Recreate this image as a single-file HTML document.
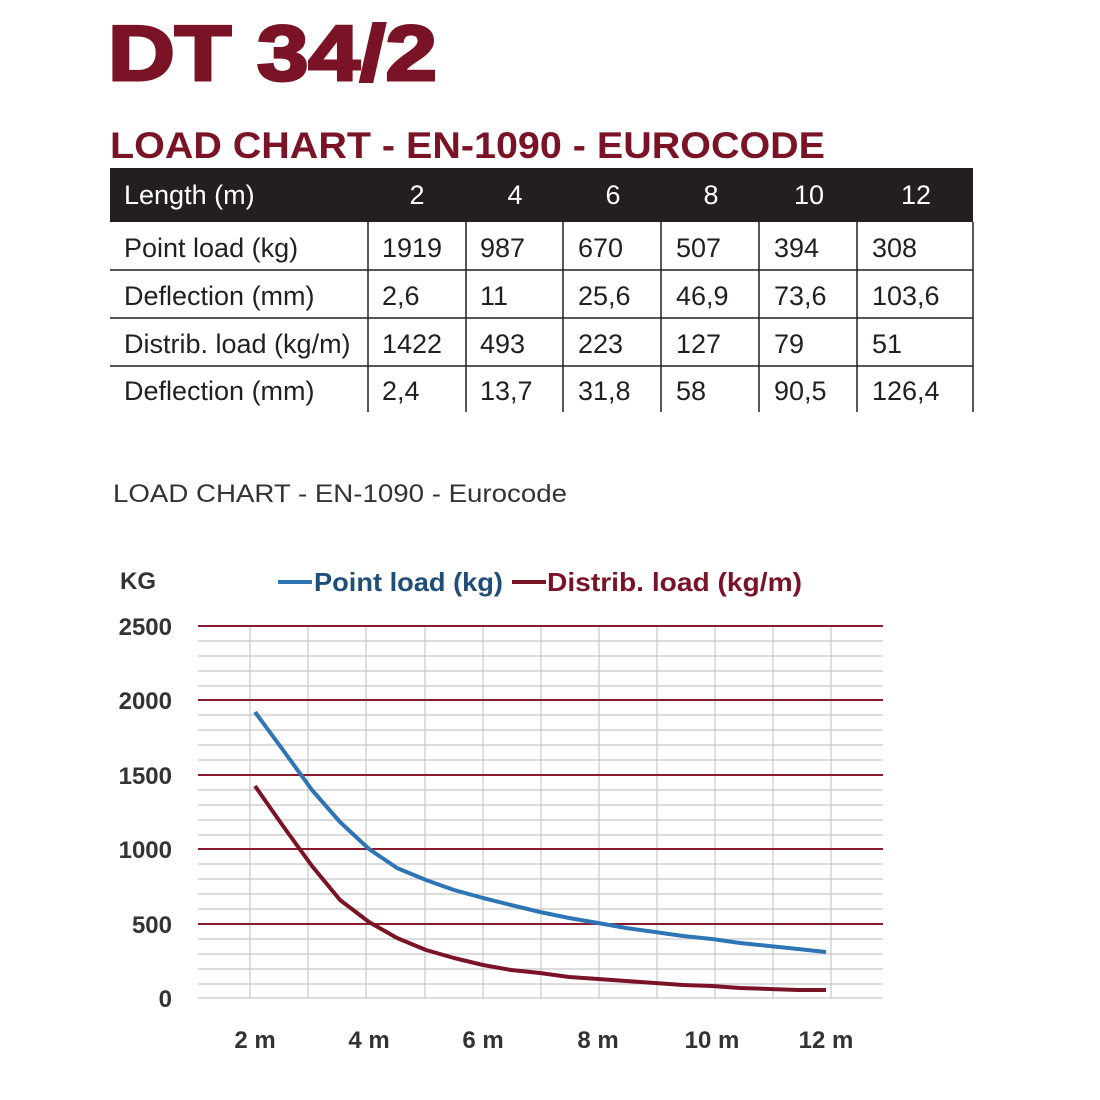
<!DOCTYPE html>
<html><head><meta charset="utf-8"><style>
body{margin:0;background:#fff;width:1100px;height:1100px;overflow:hidden;font-family:"Liberation Sans",sans-serif}
</style></head><body>
<svg width="1100" height="1100" xmlns="http://www.w3.org/2000/svg" style="position:absolute;left:0;top:0">
<text x="108" y="80" font-size="78" font-weight="bold" fill="#7b1327" font-family="Liberation Sans" textLength="329" lengthAdjust="spacingAndGlyphs" stroke="#7b1327" stroke-width="3">DT 34/2</text>
<text x="110" y="158" font-size="37" font-weight="bold" fill="#7b1327" font-family="Liberation Sans" textLength="715" lengthAdjust="spacingAndGlyphs">LOAD CHART - EN-1090 - EUROCODE</text>
<rect x="110" y="168" width="863" height="54" fill="#231f20"/>
<g font-size="27" fill="#fff">
<text x="124" y="204">Length (m)</text>
<text x="417" y="204" text-anchor="middle">2</text>
<text x="515" y="204" text-anchor="middle">4</text>
<text x="613" y="204" text-anchor="middle">6</text>
<text x="711" y="204" text-anchor="middle">8</text>
<text x="809" y="204" text-anchor="middle">10</text>
<text x="916" y="204" text-anchor="middle">12</text>
</g>
<g stroke="#231f20" stroke-width="1.5">
<line x1="110" y1="270" x2="973" y2="270"/><line x1="110" y1="318" x2="973" y2="318"/><line x1="110" y1="366" x2="973" y2="366"/>
<line x1="368" y1="222" x2="368" y2="412"/><line x1="466" y1="222" x2="466" y2="412"/><line x1="563" y1="222" x2="563" y2="412"/>
<line x1="661" y1="222" x2="661" y2="412"/><line x1="759" y1="222" x2="759" y2="412"/><line x1="857" y1="222" x2="857" y2="412"/><line x1="973" y1="222" x2="973" y2="412"/>
</g>
<g font-size="27" fill="#231f20">
<text x="124" y="257">Point load (kg)</text><text x="382" y="257">1919</text><text x="480" y="257">987</text><text x="578" y="257">670</text><text x="676" y="257">507</text><text x="774" y="257">394</text><text x="872" y="257">308</text>
<text x="124" y="305">Deflection (mm)</text><text x="382" y="305">2,6</text><text x="480" y="305">11</text><text x="578" y="305">25,6</text><text x="676" y="305">46,9</text><text x="774" y="305">73,6</text><text x="872" y="305">103,6</text>
<text x="124" y="353">Distrib. load (kg/m)</text><text x="382" y="353">1422</text><text x="480" y="353">493</text><text x="578" y="353">223</text><text x="676" y="353">127</text><text x="774" y="353">79</text><text x="872" y="353">51</text>
<text x="124" y="400">Deflection (mm)</text><text x="382" y="400">2,4</text><text x="480" y="400">13,7</text><text x="578" y="400">31,8</text><text x="676" y="400">58</text><text x="774" y="400">90,5</text><text x="872" y="400">126,4</text>
</g>
<text x="113" y="502" font-size="25" fill="#333" textLength="454" lengthAdjust="spacingAndGlyphs">LOAD CHART - EN-1090 - Eurocode</text>
<g stroke="#c8c8c8" stroke-width="1.2">
<line x1="198" y1="641" x2="883" y2="641"/><line x1="198" y1="656" x2="883" y2="656"/><line x1="198" y1="671" x2="883" y2="671"/><line x1="198" y1="686" x2="883" y2="686"/>
<line x1="198" y1="715" x2="883" y2="715"/><line x1="198" y1="730" x2="883" y2="730"/><line x1="198" y1="745" x2="883" y2="745"/><line x1="198" y1="760" x2="883" y2="760"/>
<line x1="198" y1="790" x2="883" y2="790"/><line x1="198" y1="805" x2="883" y2="805"/><line x1="198" y1="820" x2="883" y2="820"/><line x1="198" y1="835" x2="883" y2="835"/>
<line x1="198" y1="864" x2="883" y2="864"/><line x1="198" y1="879" x2="883" y2="879"/><line x1="198" y1="894" x2="883" y2="894"/><line x1="198" y1="909" x2="883" y2="909"/>
<line x1="198" y1="939" x2="883" y2="939"/><line x1="198" y1="954" x2="883" y2="954"/><line x1="198" y1="969" x2="883" y2="969"/><line x1="198" y1="984" x2="883" y2="984"/>
<line x1="198" y1="998" x2="883" y2="998"/>
<line x1="250" y1="626" x2="250" y2="998"/><line x1="308" y1="626" x2="308" y2="998"/><line x1="366" y1="626" x2="366" y2="998"/><line x1="425" y1="626" x2="425" y2="998"/><line x1="483" y1="626" x2="483" y2="998"/><line x1="541" y1="626" x2="541" y2="998"/><line x1="599" y1="626" x2="599" y2="998"/><line x1="657" y1="626" x2="657" y2="998"/><line x1="715" y1="626" x2="715" y2="998"/><line x1="773" y1="626" x2="773" y2="998"/><line x1="831" y1="626" x2="831" y2="998"/>
</g>
<g stroke="#8b1a2e" stroke-width="2">
<line x1="198" y1="626" x2="883" y2="626"/><line x1="198" y1="700" x2="883" y2="700"/><line x1="198" y1="775" x2="883" y2="775"/><line x1="198" y1="849" x2="883" y2="849"/><line x1="198" y1="924" x2="883" y2="924"/>
</g>
<g font-size="24" font-weight="bold" fill="#333" text-anchor="end">
<text x="172" y="635">2500</text><text x="172" y="709">2000</text><text x="172" y="784">1500</text><text x="172" y="858">1000</text><text x="172" y="933">500</text><text x="172" y="1007">0</text>
</g>
<text x="120" y="589" font-size="24" font-weight="bold" fill="#333">KG</text>
<g font-size="24" font-weight="bold" fill="#333" text-anchor="middle">
<text x="255" y="1048">2 m</text><text x="369" y="1048">4 m</text><text x="483" y="1048">6 m</text><text x="598" y="1048">8 m</text><text x="712" y="1048">10 m</text><text x="826" y="1048">12 m</text>
</g>
<line x1="278" y1="582" x2="312" y2="582" stroke="#2e75b6" stroke-width="4"/>
<text x="314" y="591" font-size="26" font-weight="bold" fill="#1f4e79" textLength="189" lengthAdjust="spacingAndGlyphs">Point load (kg)</text>
<line x1="512" y1="582" x2="546" y2="582" stroke="#7b1327" stroke-width="4"/>
<text x="547" y="591" font-size="26" font-weight="bold" fill="#7b1327" textLength="255" lengthAdjust="spacingAndGlyphs">Distrib. load (kg/m)</text>
<polyline fill="none" stroke="#2e75b6" stroke-width="4" stroke-linejoin="round" points="255,712 283,750 312,790 340,822 369,849 397,868 426,880 454,890 483,898 511,905 540,912 569,918 598,923 626,928 655,932 683,936 712,939 740,943 769,946 798,949 826,952"/>
<polyline fill="none" stroke="#7b1327" stroke-width="4" stroke-linejoin="round" points="255,786 283,826 312,866 340,900 369,922 397,938 426,950 454,958 483,965 511,970 540,973 569,977 598,979 626,981 655,983 683,985 712,986 740,988 769,989 798,990 826,990"/>
</svg>
</body></html>
